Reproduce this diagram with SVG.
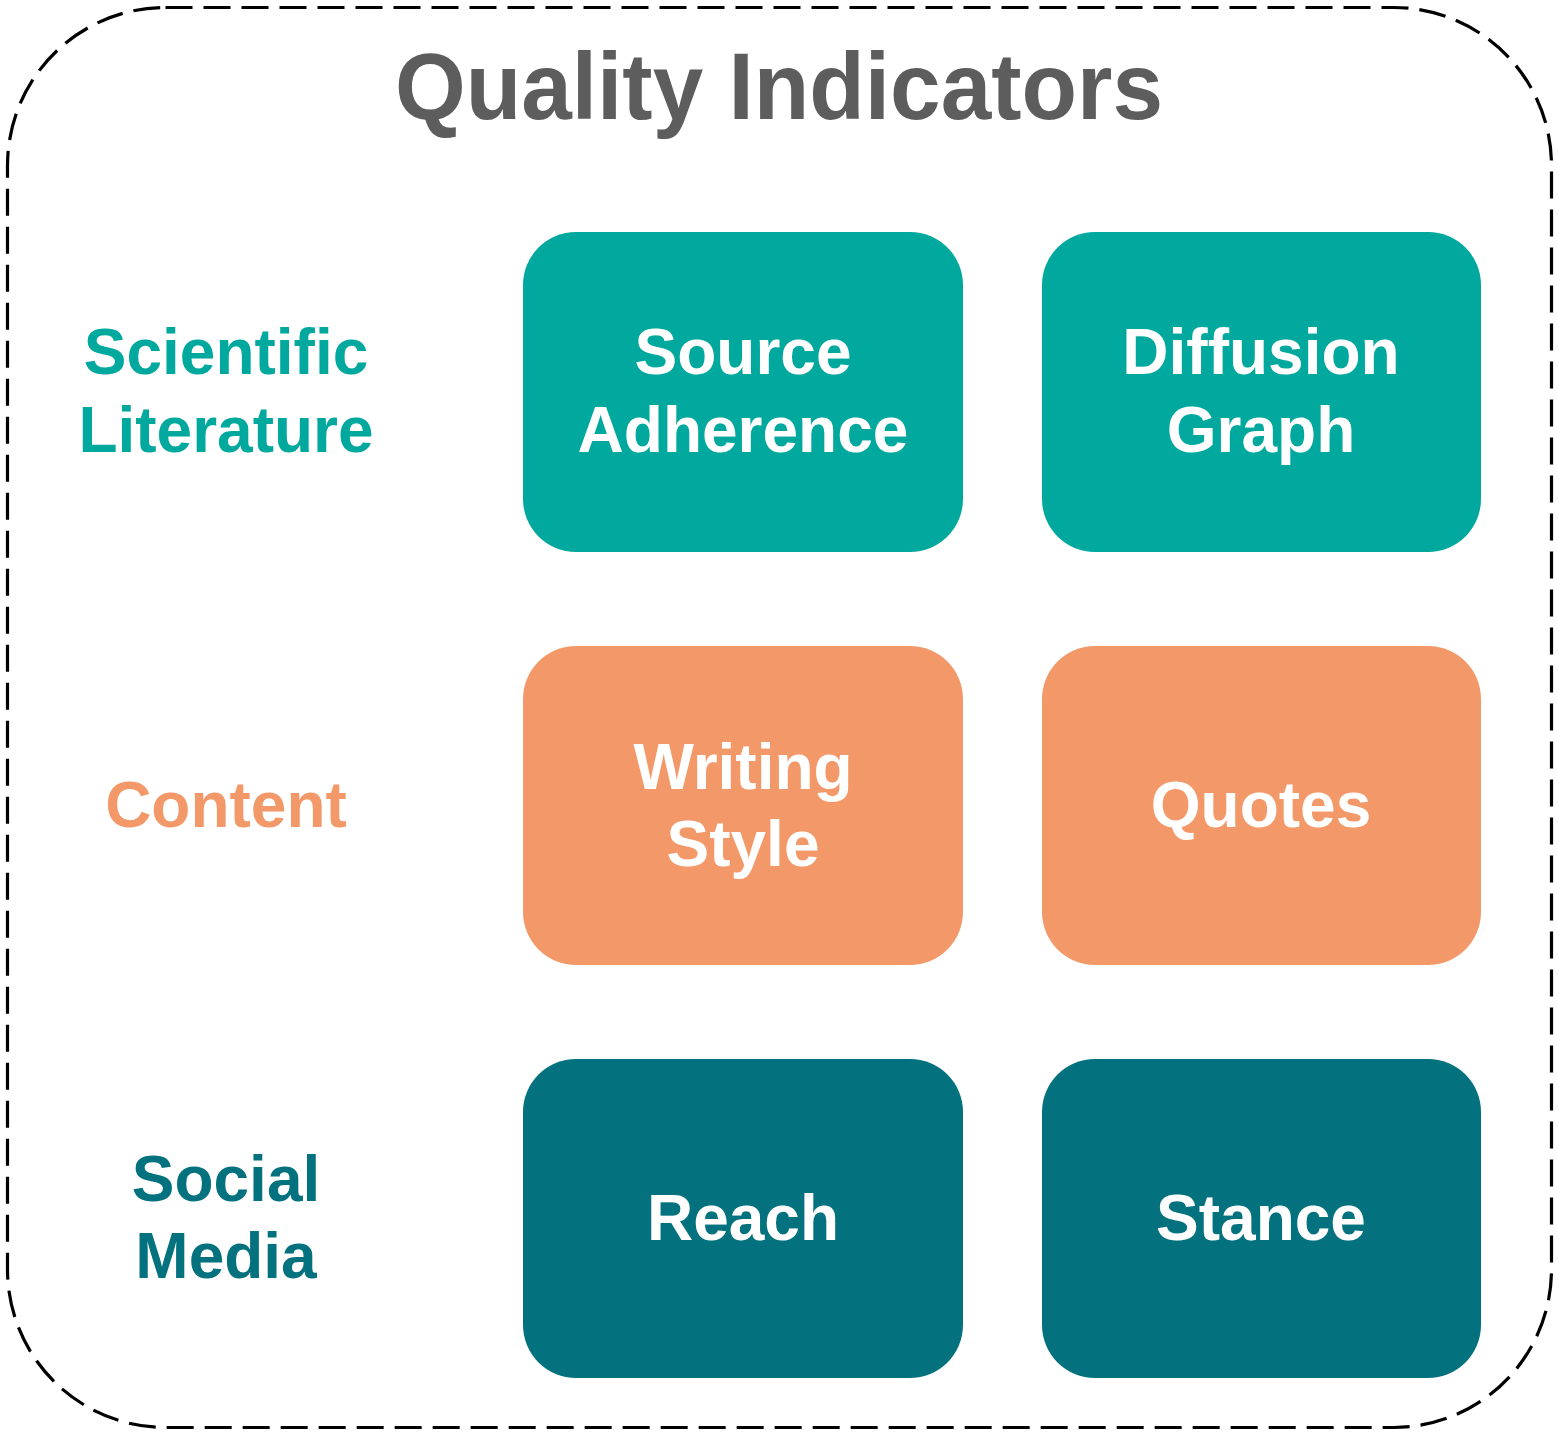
<svg xmlns="http://www.w3.org/2000/svg" width="1558" height="1434" viewBox="0 0 1558 1434">
  <style>
    text { font-family: "Liberation Sans", Arial, Helvetica, sans-serif; font-weight: bold; text-anchor: middle; }
    .title { font-size: 95px; fill: #5D5D5D; }
    .lbl { font-size: 64px; }
    .box-text { font-size: 64px; fill: #FFFFFF; }
    .sci { fill: #00A89E; }
    .con { fill: #F39969; }
    .soc { fill: #04727E; }
  </style>

  <!-- outer dashed frame -->
  <rect x="7.5" y="7.5" width="1544" height="1420" rx="158" ry="158" fill="none" stroke="#000" stroke-width="3.2" stroke-dasharray="27 11"/>

  <text class="title" x="779" y="119" textLength="768" lengthAdjust="spacingAndGlyphs">Quality Indicators</text>

  <!-- row labels -->
  <g id="label-scientific">
    <text class="lbl sci" x="226" y="374">Scientific</text>
    <text class="lbl sci" x="226" y="452">Literature</text>
  </g>
  <g id="label-content">
    <text class="lbl con" x="226" y="827">Content</text>
  </g>
  <g id="label-social">
    <text class="lbl soc" x="226" y="1201">Social</text>
    <text class="lbl soc" x="226" y="1278">Media</text>
  </g>

  <!-- indicator boxes -->
  <g id="source-adherence">
    <rect class="sci" x="523" y="232" width="440" height="320" rx="53"/>
    <text class="box-text" x="743" y="374">Source</text>
    <text class="box-text" x="743" y="452">Adherence</text>
  </g>
  <g id="diffusion-graph">
    <rect class="sci" x="1042" y="232" width="439" height="320" rx="53"/>
    <text class="box-text" x="1261" y="374">Diffusion</text>
    <text class="box-text" x="1261" y="452">Graph</text>
  </g>
  <g id="writing-style">
    <rect class="con" x="523" y="646" width="440" height="319" rx="53"/>
    <text class="box-text" x="743" y="789">Writing</text>
    <text class="box-text" x="743" y="866">Style</text>
  </g>
  <g id="quotes">
    <rect class="con" x="1042" y="646" width="439" height="319" rx="53"/>
    <text class="box-text" x="1261" y="827">Quotes</text>
  </g>
  <g id="reach">
    <rect class="soc" x="523" y="1059" width="440" height="319" rx="53"/>
    <text class="box-text" x="743" y="1240">Reach</text>
  </g>
  <g id="stance">
    <rect class="soc" x="1042" y="1059" width="439" height="319" rx="53"/>
    <text class="box-text" x="1261" y="1240">Stance</text>
  </g>

  <g id="connectors"/>
</svg>
